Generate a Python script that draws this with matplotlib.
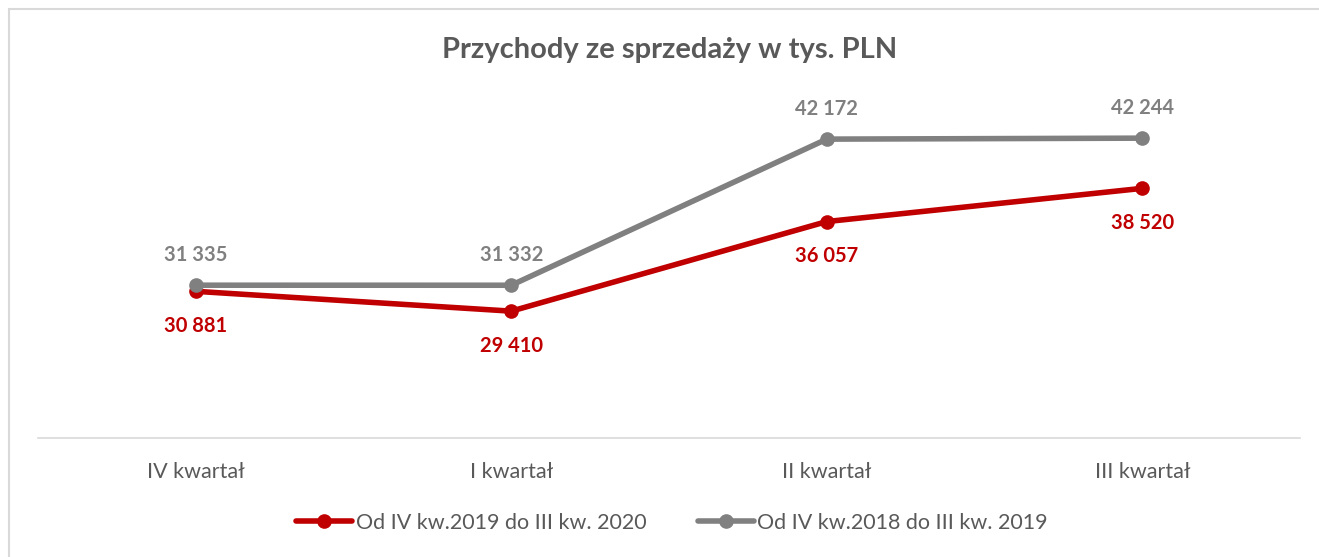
import matplotlib
matplotlib.use("Agg")
import matplotlib.pyplot as plt
from matplotlib.patches import Rectangle

categories = ["IV kwartał", "I kwartał", "II kwartał", "III kwartał"]
series_2020 = [30881, 29410, 36057, 38520]
series_2019 = [31335, 31332, 42172, 42244]
label_2020 = "Od IV kw.2019 do III kw. 2020"
label_2019 = "Od IV kw.2018 do III kw. 2019"
title = "Przychody ze sprzedaży w tys. PLN"

RED = "#C00000"
GRAY = "#808080"
TEXT = "#595959"

plt.rcParams["font.family"] = ["Lato", "DejaVu Sans"]

W, H = 1319, 557
fig = plt.figure(figsize=(W / 100, H / 100), dpi=100)

# light frame round the chart area
fig.patches.append(Rectangle((9 / W, -0.05), 1.2, 1 - 9 / H + 0.05,
                             transform=fig.transFigure, fill=False,
                             edgecolor="#D9D9D9", linewidth=1.5))

ax = fig.add_axes([38 / W, (H - 438) / H, (1300 - 38) / W, (438 - 101) / H])
x = list(range(len(categories)))

ax.plot(x, series_2020, color=RED, linewidth=4, marker="o", markersize=9.5,
        label=label_2020, solid_capstyle="round", zorder=3)
ax.plot(x, series_2019, color=GRAY, linewidth=4, marker="o", markersize=9.5,
        label=label_2019, solid_capstyle="round", zorder=4)

for xi, v in zip(x, series_2019):
    ax.annotate(f"{v:,}".replace(",", " "), (xi, v), xytext=(0, 22),
                textcoords="offset points", ha="center", va="center",
                fontsize=14.5, fontweight="bold", color=GRAY)
for xi, v in zip(x, series_2020):
    ax.annotate(f"{v:,}".replace(",", " "), (xi, v), xytext=(0, -25),
                textcoords="offset points", ha="center", va="center",
                fontsize=14.5, fontweight="bold", color=RED)

ax.set_xlim(-0.5, len(categories) - 0.5)
ax.set_ylim(20000, 45000)
ax.set_xticks(x)
ax.set_xticklabels(categories, fontsize=15.5, color=TEXT)
ax.tick_params(axis="x", length=0, pad=17)
ax.set_yticks([])
for side in ["top", "left", "right"]:
    ax.spines[side].set_visible(False)
ax.spines["bottom"].set_color("#D9D9D9")
ax.spines["bottom"].set_linewidth(1.2)

fig.text(670 / W, 1 - 50 / H, title, ha="center", va="center",
         fontsize=21, fontweight="bold", color=TEXT)

leg = fig.legend(loc="center", bbox_to_anchor=(672 / W, 1 - 523 / H), ncol=2,
                 frameon=False, fontsize=15.5, handlelength=2.6,
                 handletextpad=0.15, columnspacing=2.4)
for t in leg.get_texts():
    t.set_color(TEXT)

fig.savefig("out.png", dpi=100)
